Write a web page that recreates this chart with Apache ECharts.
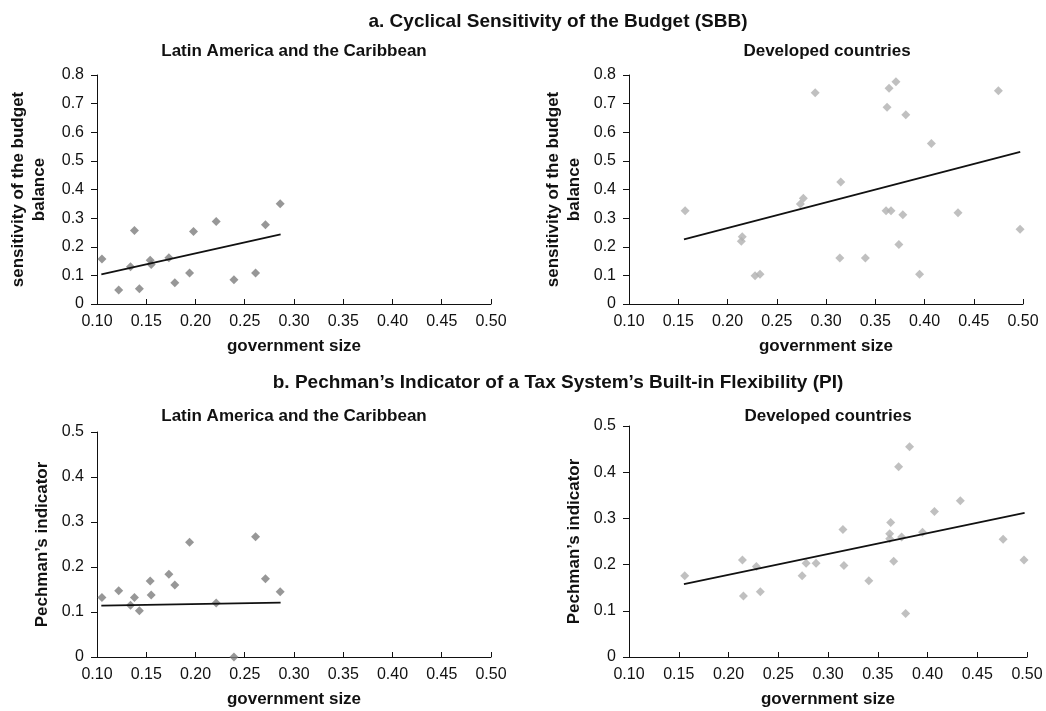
<!DOCTYPE html>
<html>
<head>
<meta charset="utf-8">
<script src="https://cdn.jsdelivr.net/npm/echarts@6/dist/echarts.min.js"></script>
<style>
  html, body { margin: 0; padding: 0; background: #fff; }
</style>
</head>
<body>
<div id="main" style="width: 1046px; height: 711px"></div>
<script>
// panel a, Latin America: government size / sensitivity of the budget balance
const latamSbbSize = [0.105, 0.122, 0.134, 0.138, 0.143, 0.154, 0.155, 0.173, 0.179, 0.194, 0.198, 0.221, 0.239, 0.261, 0.271, 0.286];
const latamSbb = [0.157, 0.049, 0.130, 0.257, 0.053, 0.153, 0.138, 0.162, 0.074, 0.108, 0.253, 0.288, 0.085, 0.108, 0.277, 0.350];
// panel a, developed countries
const devSbbSize = [0.157, 0.214, 0.215, 0.228, 0.233, 0.274, 0.277, 0.289, 0.314, 0.315, 0.340, 0.361, 0.362, 0.364, 0.366, 0.371, 0.374, 0.378, 0.381, 0.395, 0.407, 0.434, 0.475, 0.497];
const devSbb = [0.326, 0.219, 0.235, 0.099, 0.104, 0.349, 0.369, 0.738, 0.161, 0.426, 0.161, 0.326, 0.687, 0.754, 0.326, 0.776, 0.208, 0.312, 0.661, 0.104, 0.561, 0.319, 0.745, 0.261];
// panel b, Latin America: Pechman's indicator
const latamPiSize = [0.105, 0.122, 0.134, 0.138, 0.143, 0.154, 0.155, 0.173, 0.179, 0.194, 0.221, 0.239, 0.261, 0.271, 0.286];
const latamPi = [0.132, 0.147, 0.115, 0.132, 0.103, 0.169, 0.138, 0.184, 0.160, 0.255, 0.120, 0.000, 0.267, 0.174, 0.145];
// panel b, developed countries
const devPiSize = [0.156, 0.214, 0.215, 0.228, 0.232, 0.274, 0.278, 0.288, 0.315, 0.316, 0.341, 0.362, 0.362, 0.363, 0.366, 0.371, 0.374, 0.378, 0.382, 0.395, 0.407, 0.433, 0.476, 0.497];
const devPi = [0.176, 0.210, 0.132, 0.196, 0.141, 0.176, 0.203, 0.203, 0.276, 0.198, 0.165, 0.267, 0.256, 0.291, 0.207, 0.412, 0.260, 0.094, 0.455, 0.270, 0.315, 0.338, 0.255, 0.210];

// trend lines: [start, end]
const latamSbbTrend = [[0.1044, 0.1035], [0.2864, 0.243]];
const devSbbTrend = [[0.1558, 0.2256], [0.4972, 0.5314]];
const latamPiTrend = [[0.1044, 0.1142], [0.2864, 0.1209]];
const devPiTrend = [[0.1552, 0.1576], [0.4976, 0.3122]];

const xTicksMin = 0.1, xTicksMax = 0.5, xStep = 0.05;

const font = "'Liberation Sans', Arial, sans-serif";
const darkPt = "#7d7d7d";
const lightPt = "#b0b0b0";

function zip(xs, ys) {
  return xs.map((x, i) => [x, ys[i]]);
}

let grids = [
  { left: 97, top: 75, width: 394, height: 229 },
  { left: 629, top: 75, width: 394, height: 229 },
  { left: 97, top: 432, width: 394, height: 225 },
  { left: 629, top: 426, width: 398, height: 231 },
];

let xAxes = grids.map((g, i) => ({
  type: "value",
  gridIndex: i,
  min: xTicksMin,
  max: xTicksMax,
  interval: xStep,
  name: "government size",
  nameLocation: "middle",
  nameGap: 34,
  nameTextStyle: { fontFamily: font, fontWeight: "bold", fontSize: 17, color: "#111" },
  axisLine: { lineStyle: { color: "#111", width: 1 } },
  axisTick: { inside: true, length: 5, lineStyle: { color: "#111" } },
  axisLabel: {
    margin: 10,
    fontFamily: font,
    fontSize: 16,
    color: "#111",
    formatter: (v) => v.toFixed(2),
  },
  splitLine: { show: false },
}));

const yNames = ["sensitivity of the budget\nbalance", "sensitivity of the budget\nbalance", "Pechman\u2019s indicator", "Pechman\u2019s indicator"];
const yMax = [0.8, 0.8, 0.5, 0.5];
const yGaps = [47, 44, 44, 44];

let yAxes = grids.map((g, i) => ({
  type: "value",
  gridIndex: i,
  min: 0,
  max: yMax[i],
  interval: 0.1,
  name: yNames[i],
  nameLocation: "middle",
  nameGap: yGaps[i],
  nameTextStyle: { fontFamily: font, fontWeight: "bold", fontSize: 17, color: "#111", lineHeight: 21 },
  axisLine: { show: true, lineStyle: { color: "#111", width: 1 } },
  axisTick: { show: true, length: 6, lineStyle: { color: "#111" } },
  axisLabel: { margin: 13, fontFamily: font, fontSize: 16, color: "#111" },
  splitLine: { show: false },
}));

function scatter(i, data, color) {
  return {
    type: "scatter",
    xAxisIndex: i,
    yAxisIndex: i,
    symbol: "diamond",
    symbolSize: 9,
    itemStyle: { color: color },
    data: data,
    z: 2,
  };
}

function trend(i, data) {
  return {
    type: "line",
    xAxisIndex: i,
    yAxisIndex: i,
    symbol: "none",
    lineStyle: { color: "#111", width: 1.8 },
    data: data,
    z: 3,
  };
}

const titleStyle = { fontFamily: font, fontWeight: "bold", color: "#111" };

let myChart = echarts.init(document.getElementById("main"), null, { renderer: "canvas" });
myChart.setOption({
  backgroundColor: "#fff",
  animation: false,
  title: [
    { text: "a. Cyclical Sensitivity of the Budget (SBB)", left: 558, top: 12, textAlign: "center", padding: 0, textStyle: { ...titleStyle, fontSize: 19 } },
    { text: "Latin America and the Caribbean", left: 294, top: 43, textAlign: "center", padding: 0, textStyle: { ...titleStyle, fontSize: 17 } },
    { text: "Developed countries", left: 827, top: 43, textAlign: "center", padding: 0, textStyle: { ...titleStyle, fontSize: 17 } },
    { text: "b. Pechman\u2019s Indicator of a Tax System\u2019s Built-in Flexibility (PI)", left: 558, top: 373, textAlign: "center", padding: 0, textStyle: { ...titleStyle, fontSize: 19 } },
    { text: "Latin America and the Caribbean", left: 294, top: 408, textAlign: "center", padding: 0, textStyle: { ...titleStyle, fontSize: 17 } },
    { text: "Developed countries", left: 828, top: 408, textAlign: "center", padding: 0, textStyle: { ...titleStyle, fontSize: 17 } },
  ],
  grid: grids,
  xAxis: xAxes,
  yAxis: yAxes,
  series: [
    scatter(0, zip(latamSbbSize, latamSbb), darkPt),
    trend(0, latamSbbTrend),
    scatter(1, zip(devSbbSize, devSbb), lightPt),
    trend(1, devSbbTrend),
    scatter(2, zip(latamPiSize, latamPi), darkPt),
    trend(2, latamPiTrend),
    scatter(3, zip(devPiSize, devPi), lightPt),
    trend(3, devPiTrend),
  ],
});
</script>
</body>
</html>
